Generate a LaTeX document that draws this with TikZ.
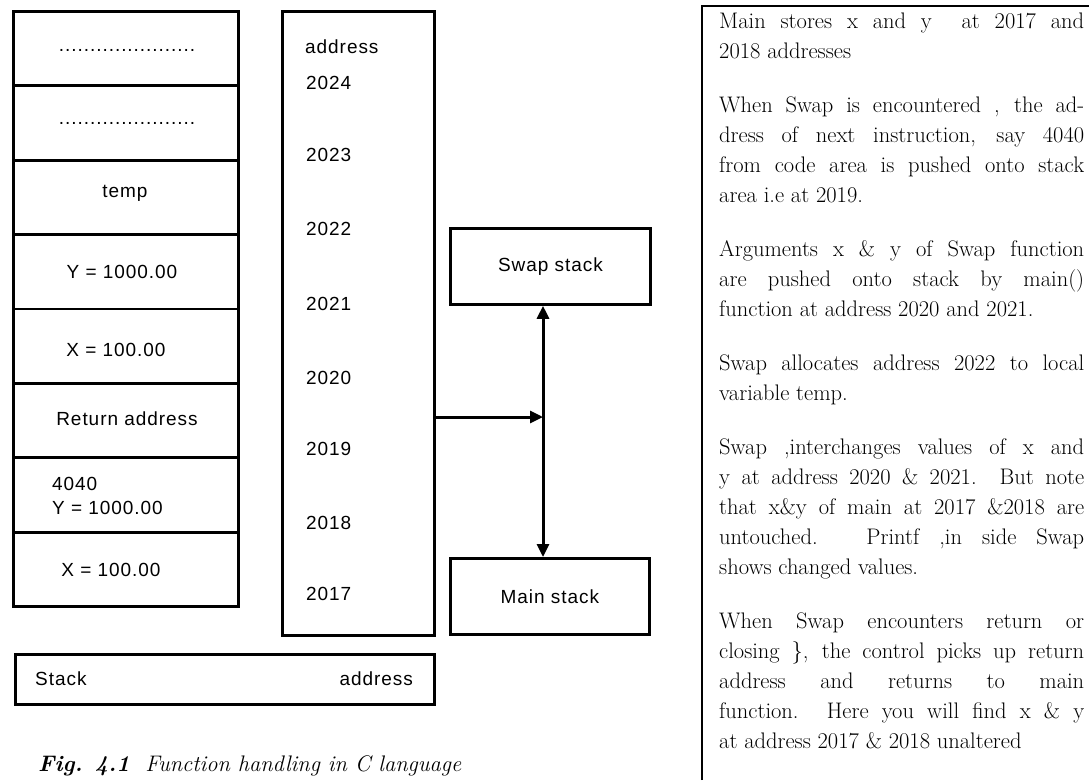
\documentclass[tikz,border=0pt]{standalone}
\usepackage{fontspec}
\usetikzlibrary{arrows.meta}
\newfontfamily\diagfont[LetterSpace=5]{Liberation Sans}
\begin{document}
\begin{tikzpicture}[x=1pt,y=-1pt,
  box/.style={draw, line width=2.8pt, inner sep=0pt, anchor=north west},
  st/.style={font=\diagfont\fontsize{19}{22}\selectfont, inner sep=0pt},
  para/.style={font=\fontsize{22.5}{26}\selectfont\addfontfeatures{FakeBold=0.3}, inner sep=0pt, anchor=base west},
  arr/.style={line width=3pt, -{Triangle[length=13pt,width=12pt]}},
  darr/.style={line width=3pt, {Triangle[length=13pt,width=12pt]}-{Triangle[length=13pt,width=12pt]}},
]
\useasboundingbox (0,0) rectangle (1089,780);
% stack cells
\foreach \i in {1,...,8}
  \node[box, minimum width=225pt, minimum height=74.4pt] (c\i) at (12,{10+(\i-1)*74.4}) {};
\node[st, anchor=base] (d1) at (127,51) {......................};
\node[st, anchor=base] (d2) at (127,124) {......................};
\node[st, anchor=base] (tmp) at (125,197) {temp};
\node[st, anchor=base] (y1) at (122,278) {Y = 1000.00};
\node[st, anchor=base] (x1) at (116,356) {X = 100.00};
\node[st, anchor=base] (ra) at (127,425) {Return address};
\node[st, anchor=base west] (ret) at (52,490) {4040};
\node[st, anchor=base west] (y2) at (52,514) {Y = 1000.00};
\node[st, anchor=base] (x2) at (111,576) {X = 100.00};
% address column
\node[box, minimum width=152pt, minimum height=624pt] (addrcol) at (281,10) {};
\node[st, anchor=base west] (ah) at (305,53) {address};
\node[st, anchor=base west] (a24) at (306,89) {2024};
\node[st, anchor=base west] (a23) at (306,161) {2023};
\node[st, anchor=base west] (a22) at (306,235) {2022};
\node[st, anchor=base west] (a21) at (306,310) {2021};
\node[st, anchor=base west] (a20) at (306,384) {2020};
\node[st, anchor=base west] (a19) at (306,455) {2019};
\node[st, anchor=base west] (a18) at (306,529) {2018};
\node[st, anchor=base west] (a17) at (306,600) {2017};
% swap / main boxes
\node[box, st, minimum width=200pt, minimum height=76pt] (swap) at (449,227) {Swap stack};
\node[box, st, minimum width=199pt, minimum height=76pt] (mainst) at (449,557) {Main stack};
% legend box
\node[box, minimum width=419pt, minimum height=50pt] (legend) at (14,653) {};
\node[st, anchor=base west] (lgs) at (35,685) {Stack};
\node[st, anchor=base east] (lga) at (413,685) {address};
% arrows
\coordinate (jn) at (543,417);
\draw[arr] (addrcol.east |- jn) -- (jn);
\draw[darr] (jn |- swap.south) -- (jn |- mainst.north);
% caption
\node[anchor=base west, inner sep=0pt, font=\fontsize{22.5}{26}\selectfont\itshape] (cap) at (38,771) {\textbf{Fig. 4.1}\ \ Function handling in C language};
% right text box
\coordinate (rbt) at (702,6);
\draw[line width=2pt] (702,780) -- (rbt) -- (1089,6);
\node[para] (t0) at (719,28) {\makebox[365pt][s]{Main stores x and y\ \ at 2017 and}};
\node[para] (t1) at (719,58) {2018 addresses};
\node[para] (t2) at (719,112) {\makebox[365pt][s]{When Swap is encountered , the ad-}};
\node[para] (t3) at (719,142) {\makebox[365pt][s]{dress of next instruction, say 4040}};
\node[para] (t4) at (719,172) {\makebox[365pt][s]{from code area is pushed onto stack}};
\node[para] (t5) at (719,202) {area i.e at 2019.};
\node[para] (t6) at (719,256) {\makebox[365pt][s]{Arguments x \& y of Swap function}};
\node[para] (t7) at (719,286) {\makebox[365pt][s]{are pushed onto stack by main()}};
\node[para] (t8) at (719,316) {function at address 2020 and 2021.};
\node[para] (t9) at (719,370) {\makebox[365pt][s]{Swap allocates address 2022 to local}};
\node[para] (t10) at (719,400) {variable temp.};
\node[para] (t11) at (719,454) {\makebox[365pt][s]{Swap ,interchanges values of x and}};
\node[para] (t12) at (719,484) {\makebox[365pt][s]{y at address 2020 \& 2021. But note}};
\node[para] (t13) at (719,514) {\makebox[365pt][s]{that x\&y of main at 2017 \&2018 are}};
\node[para] (t14) at (719,544) {\makebox[365pt][s]{untouched. Printf ,in side Swap}};
\node[para] (t15) at (719,574) {shows changed values.};
\node[para] (t16) at (719,628) {\makebox[365pt][s]{When Swap encounters return or}};
\node[para] (t17) at (719,658) {\makebox[365pt][s]{closing \}, the control picks up return}};
\node[para] (t18) at (719,688) {\makebox[365pt][s]{address and returns to main}};
\node[para] (t19) at (719,718) {\makebox[365pt][s]{function. Here you will find x \& y}};
\node[para] (t20) at (719,748) {at address 2017 \& 2018 unaltered};
\end{tikzpicture}
\end{document}
